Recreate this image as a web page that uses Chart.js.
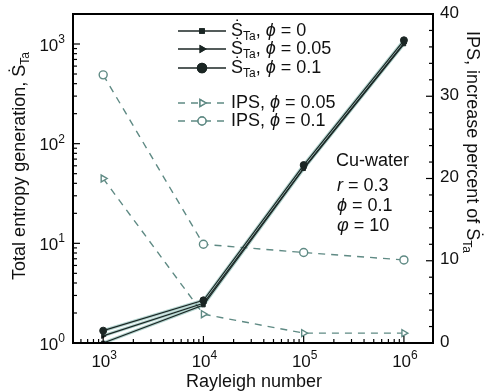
<!DOCTYPE html>
<html>
<head>
<meta charset="utf-8">
<script src="https://cdn.jsdelivr.net/npm/chart.js@4.4.0/dist/chart.umd.min.js"></script>
<style>
  html, body { margin: 0; padding: 0; background: #fff; }
  #wrap { width: 485px; height: 392px; }
</style>
</head>
<body>
<div id="wrap"><canvas id="myChart" width="485" height="392"></canvas></div>
<script>
// values
var rayleigh = [1e3, 1e4, 1e5, 1e6];
var sTa0   = [1.0, 2.4, 56, 1000];
var sTa005 = [1.18, 2.5, 57, 1020];
var sTa01  = [1.33, 2.68, 61, 1090];
var ips005 = [20, 3.5, 1.2, 1.2];
var ips01  = [32.6, 12, 11, 10.1];

var FONT = '"Liberation Sans", Arial, sans-serif';
var solid = '#1b2624';
var halo = '#b3d4cf';
var dashed = '#5f8a84';

function pts(ys) {
  return rayleigh.map(function(x, i){ return {x: x, y: ys[i]}; });
}
function decade(v) {
  var l = Math.log10(v);
  return Math.abs(l - Math.round(l)) < 1e-9 ? Math.round(l) : null;
}
function isNice(v) {
  var m = v / Math.pow(10, Math.floor(Math.log10(v) + 1e-9));
  return Math.abs(m - Math.round(m)) < 1e-6;
}

// text with sub/superscripts: parts = [[text, 'n'|'sub'|'sup', italic]]
function partSize(p, size) { return p[1] === 'n' ? size : Math.round(size * 0.68); }
function richWidth(ctx, parts, size) {
  var w = 0;
  parts.forEach(function(p){
    ctx.font = (p[2] ? 'italic ' : '') + partSize(p, size) + 'px ' + FONT;
    w += ctx.measureText(p[0]).width;
  });
  return w;
}
function richText(ctx, parts, x, y, size) {
  parts.forEach(function(p){
    ctx.font = (p[2] ? 'italic ' : '') + partSize(p, size) + 'px ' + FONT;
    var dy = p[1] === 'sub' ? size * 0.32 : (p[1] === 'sup' ? -size * 0.38 : 0);
    ctx.fillText(p[0], x, y + dy);
    x += ctx.measureText(p[0]).width;
  });
}

var legendRows = [
  {y: 31, color: solid, dash: [], style: 'rect', r: 3, fill: true, rot: 0,
   text: [['\u1E60', 'n'], ['Ta', 'sub'], [', ', 'n'], ['\u03D5', 'n', true], [' = 0', 'n']]},
  {y: 49, color: solid, dash: [], style: 'triangle', r: 3.5, fill: true, rot: 90,
   text: [['\u1E60', 'n'], ['Ta', 'sub'], [', ', 'n'], ['\u03D5', 'n', true], [' = 0.05', 'n']]},
  {y: 68, color: solid, dash: [], style: 'circle', r: 4.5, fill: true, rot: 0,
   text: [['\u1E60', 'n'], ['Ta', 'sub'], [', ', 'n'], ['\u03D5', 'n', true], [' = 0.1', 'n']]},
  {y: 103, color: dashed, dash: [7, 6], style: 'triangle', r: 4, fill: false, rot: 90,
   text: [['IPS, ', 'n'], ['\u03D5', 'n', true], [' = 0.05', 'n']]},
  {y: 121, color: dashed, dash: [7, 6], style: 'circle', r: 4, fill: false, rot: 0,
   text: [['IPS, ', 'n'], ['\u03D5', 'n', true], [' = 0.1', 'n']]}
];

var decorPlugin = {
  id: 'decor',
  afterDraw: function(chart) {
    var ctx = chart.ctx;
    var a = chart.chartArea;
    ctx.save();
    ctx.strokeStyle = '#000';
    ctx.lineWidth = 2;
    ctx.setLineDash([]);
    ctx.strokeRect(a.left, a.top, a.right - a.left, a.bottom - a.top);

    // inward ticks and tick labels
    ctx.lineWidth = 1.2;
    ctx.fillStyle = '#111';
    ctx.textBaseline = 'middle';
    var xs = chart.scales.x, ys = chart.scales.y, y1 = chart.scales.y1;
    xs.ticks.forEach(function(t){
      if (!isNice(t.value)) return;
      var px = xs.getPixelForValue(t.value);
      if (px < a.left || px > a.right) return;
      var d = decade(t.value);
      ctx.beginPath(); ctx.moveTo(px, a.bottom); ctx.lineTo(px, a.bottom - (d !== null ? 7 : 4)); ctx.stroke();
      if (d !== null) {
        var parts = [['10', 'n'], [String(d), 'sup']];
        richText(ctx, parts, px - richWidth(ctx, parts, 17) / 2 + 1, 362, 17);
      }
    });
    ys.ticks.forEach(function(t){
      if (!isNice(t.value)) return;
      var py = ys.getPixelForValue(t.value);
      if (py < a.top - 0.5 || py > a.bottom + 0.5) return;
      var d = decade(t.value);
      ctx.beginPath(); ctx.moveTo(a.left, py); ctx.lineTo(a.left + (d !== null ? 7 : 4), py); ctx.stroke();
      if (d !== null) {
        var parts = [['10', 'n'], [String(d), 'sup']];
        richText(ctx, parts, 65 - richWidth(ctx, parts, 17), py + 2, 17);
      }
    });
    y1.ticks.forEach(function(t){
      var py = y1.getPixelForValue(t.value);
      var major = t.value % 10 === 0;
      ctx.beginPath(); ctx.moveTo(a.right, py); ctx.lineTo(a.right - (major ? 7 : 4), py); ctx.stroke();
      if (major) richText(ctx, [[String(t.value), 'n']], 440, py - 1, 17);
    });

    // legend
    legendRows.forEach(function(r){
      ctx.strokeStyle = r.color;
      ctx.lineWidth = 1.4;
      ctx.setLineDash(r.dash);
      ctx.beginPath(); ctx.moveTo(178, r.y); ctx.lineTo(226, r.y); ctx.stroke();
      ctx.setLineDash([]);
      Chart.helpers.drawPoint(ctx, {pointStyle: r.style, radius: r.r, rotation: r.rot, borderWidth: 1.2}, 202, r.y);
      ctx.fillStyle = r.fill ? r.color : '#fff';
      ctx.strokeStyle = r.color;
      ctx.fill(); ctx.stroke();
      ctx.fillStyle = '#111';
      richText(ctx, r.text, 231, r.y, 18);
    });

    // annotation
    richText(ctx, [['Cu-water', 'n']], 336, 161, 18);
    richText(ctx, [['r', 'n', true], [' = 0.3', 'n']], 337, 186, 18);
    richText(ctx, [['\u03D5', 'n', true], [' = 0.1', 'n']], 337, 206, 18);
    richText(ctx, [['\u03C6', 'n', true], [' = 10', 'n']], 337, 226, 18);

    // axis titles
    var bottom = [['Rayleigh number', 'n']];
    richText(ctx, bottom, (a.left + a.right) / 2 + 1 - richWidth(ctx, bottom, 18) / 2, 382, 18);

    var left = [['Total entropy generation, \u1E60', 'n'], ['Ta', 'sub']];
    var wl = richWidth(ctx, left, 18);
    ctx.save();
    ctx.translate(20, 166);
    ctx.rotate(-Math.PI / 2);
    richText(ctx, left, -wl / 2, 0, 18);
    ctx.restore();

    var right = [['IPS, increase percent of \u1E60', 'n'], ['Ta', 'sub']];
    var wr = richWidth(ctx, right, 18);
    ctx.save();
    ctx.translate(472, 142);
    ctx.rotate(Math.PI / 2);
    richText(ctx, right, -wr / 2, 0, 18);
    ctx.restore();

    ctx.restore();
  }
};

function haloSet(ys) {
  return {data: pts(ys), yAxisID: 'y', borderColor: halo, borderWidth: 3.2, pointRadius: 0, order: 5};
}
function solidSet(ys, style, r, rot) {
  return {data: pts(ys), yAxisID: 'y', borderColor: solid, backgroundColor: solid, borderWidth: 1.2,
          pointStyle: style, pointRadius: r, pointRotation: rot, pointBorderWidth: 1, order: 1};
}

var ctx = document.getElementById('myChart').getContext('2d');
var myChart = new Chart(ctx, {
  type: 'line',
  data: {
    datasets: [
      haloSet(sTa0), haloSet(sTa005), haloSet(sTa01),
      solidSet(sTa0, 'rect', 2.5, 0),
      solidSet(sTa005, 'triangle', 3, 90),
      solidSet(sTa01, 'circle', 3.5, 0),
      {data: pts(ips005), yAxisID: 'y1', borderColor: dashed, backgroundColor: '#fff', order: 2,
       borderWidth: 1.4, borderDash: [7, 6], pointStyle: 'triangle', pointRotation: 90, pointRadius: 4},
      {data: pts(ips01), yAxisID: 'y1', borderColor: dashed, backgroundColor: '#fff', order: 2,
       borderWidth: 1.4, borderDash: [7, 6], pointStyle: 'circle', pointRadius: 4}
    ]
  },
  options: {
    responsive: false,
    animation: false,
    layout: {padding: {top: 14}},
    plugins: {legend: {display: false}, tooltip: {enabled: false}},
    scales: {
      x: {
        type: 'logarithmic', min: 500, max: 1950000,
        afterFit: function(s){ s.height = 49; },
        grid: {drawOnChartArea: false, drawTicks: false},
        border: {display: false},
        ticks: {autoSkip: false, display: false}
      },
      y: {
        type: 'logarithmic', min: 1, max: 2000, position: 'left',
        afterFit: function(s){ s.width = 73; },
        grid: {drawOnChartArea: false, drawTicks: false},
        border: {display: false},
        ticks: {autoSkip: false, display: false}
      },
      y1: {
        type: 'linear', min: 0, max: 40, position: 'right',
        afterFit: function(s){ s.width = 52; },
        grid: {drawOnChartArea: false, drawTicks: false},
        border: {display: false},
        ticks: {stepSize: 2, autoSkip: false, display: false}
      }
    }
  },
  plugins: [decorPlugin]
});
</script>
</body>
</html>
